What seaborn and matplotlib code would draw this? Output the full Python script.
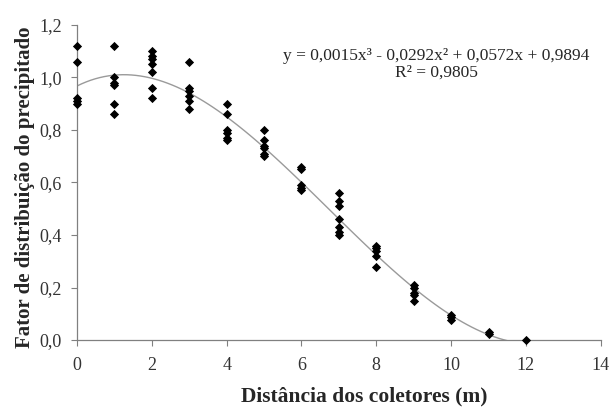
import matplotlib
matplotlib.use("Agg")
import matplotlib.pyplot as plt
import seaborn as sns
import pandas as pd
from matplotlib.ticker import FuncFormatter

# collector distance (m) and distribution factor
dist_0 = [1.12, 1.06, 0.92, 0.91, 0.90]
dist_1 = [1.12, 1.00, 0.98, 0.97, 0.90, 0.86]
dist_2 = [1.10, 1.08, 1.07, 1.05, 1.02, 0.96, 0.92]
dist_3 = [1.06, 0.96, 0.95, 0.93, 0.91, 0.88]
dist_4 = [0.90, 0.86, 0.80, 0.79, 0.77, 0.76]
dist_5 = [0.80, 0.76, 0.74, 0.73, 0.71, 0.70]
dist_6 = [0.66, 0.65, 0.59, 0.58, 0.57]
dist_7 = [0.56, 0.53, 0.51, 0.46, 0.43, 0.41, 0.40]
dist_8 = [0.36, 0.35, 0.34, 0.32, 0.28]
dist_9 = [0.21, 0.20, 0.18, 0.17, 0.15]
dist_10 = [0.095, 0.086, 0.076]
dist_11 = [0.032, 0.023]
dist_12 = [0.0]

groups = [dist_0, dist_1, dist_2, dist_3, dist_4, dist_5, dist_6,
          dist_7, dist_8, dist_9, dist_10, dist_11, dist_12]

rows = []
for d, vals in enumerate(groups):
    for v in vals:
        rows.append({"dist": d, "fator": v})
df = pd.DataFrame(rows)

equation = "y = 0,0015x³ - 0,0292x² + 0,0572x + 0,9894"
r2_text = "R² = 0,9805"

sns.set_style("ticks")
plt.rcParams["font.family"] = ["Liberation Serif", "DejaVu Serif"]

fig = plt.figure(figsize=(6.13, 4.07), dpi=100)
ax = fig.add_axes([0.1256, 0.1646, 0.8544, 0.774])

sns.regplot(data=df, x="dist", y="fator", order=3, ci=None, scatter=False,
            truncate=True, ax=ax, line_kws={"color": "#9a9a9a", "lw": 1.0})
sns.scatterplot(data=df, x="dist", y="fator", marker="D", s=22,
                color="black", edgecolor="black", linewidth=0, ax=ax,
                clip_on=False, zorder=3)

ax.set_xlim(0, 14)
ax.set_ylim(0, 1.2)
ax.set_xticks(range(0, 15, 2))
ax.set_yticks([0, 0.2, 0.4, 0.6, 0.8, 1.0, 1.2])
ax.yaxis.set_major_formatter(FuncFormatter(lambda v, p: f"{v:.1f}".replace(".", ",")))
ax.tick_params(labelsize=13, length=4, width=0.8, color="#808080",
               direction="out", labelcolor="#333333")
ax.tick_params(axis="x", pad=8)
ax.tick_params(axis="y", pad=7)
for s in ["top", "right"]:
    ax.spines[s].set_visible(False)
for s in ["left", "bottom"]:
    ax.spines[s].set_color("#808080")
    ax.spines[s].set_linewidth(0.9)

ax.set_xlabel("Distância dos coletores (m)", fontsize=15.5, fontweight="bold")
ax.set_ylabel("Fator de distribuição do precipitado", fontsize=15,
              fontweight="bold")
ax.xaxis.set_label_coords(0.548, -0.146)
ax.yaxis.set_label_coords(-0.080, 0.484)

ax.text(9.61, 1.08, equation, ha="center", va="center", fontsize=12.5)
ax.text(9.61, 1.02, r2_text, ha="center", va="center", fontsize=12.5)

fig.savefig("out.png", dpi=100)
